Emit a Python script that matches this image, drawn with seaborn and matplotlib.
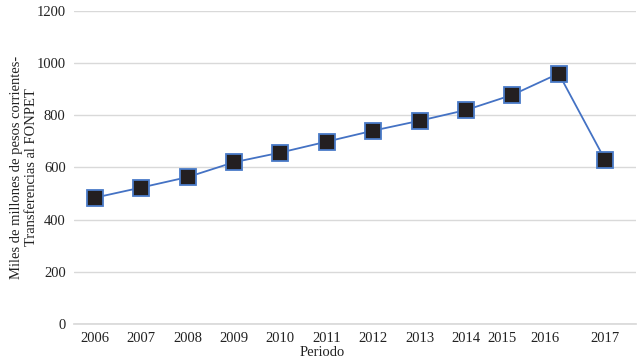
import matplotlib
matplotlib.use("Agg")
import matplotlib.pyplot as plt
import matplotlib.transforms as mtransforms
import seaborn as sns
import pandas as pd

years = ["2006", "2007", "2008", "2009", "2010", "2011", "2012", "2013", "2014", "2015", "2016", "2017"]
values = [484, 523, 563, 620, 657, 699, 741, 779, 820, 878, 960, 629]

sns.set_theme(style="white")
plt.rcParams['font.family'] = ['Liberation Serif', 'DejaVu Serif']

df = pd.DataFrame({"idx": range(len(years)), "value": values})

fig = plt.figure(figsize=(6.4, 3.64), dpi=100)
ax = fig.add_axes([0.1156, 0.110, 0.8784, 0.860])

sns.lineplot(data=df, x="idx", y="value", ax=ax, color="#4472c4", linewidth=1.3,
             marker="s", markersize=11, markerfacecolor="#231f20",
             markeredgecolor="#4a7bc8", markeredgewidth=1.3, zorder=3)

ax.set_ylim(0, 1200)
ax.set_yticks(range(0, 1201, 200))
ax.set_xlim(-0.45, 11.67)
ax.set_xticks(range(len(years)))
ax.set_xticklabels(years)
ax.yaxis.grid(True, color="#d9d9d9", linewidth=1)
ax.set_axisbelow(True)
for s in ["top", "right", "left"]:
    ax.spines[s].set_visible(False)
ax.spines["bottom"].set_color("#d9d9d9")
ax.tick_params(axis="both", length=0, labelsize=10.5, colors="#222222", pad=6)

# slight label shifts as in the reference
shifts = {"2015": -10, "2016": -14}
for lab in ax.get_xticklabels():
    dx = shifts.get(lab.get_text(), 0)
    if dx:
        lab.set_transform(lab.get_transform() + mtransforms.ScaledTranslation(dx / 100, 0, fig.dpi_scale_trans))

ax.set_xlabel("Periodo", fontsize=10.5, color="#222222")
ax.xaxis.set_label_coords(0.441, -0.07)
ax.set_ylabel("Miles de millones de pesos corrientes-\nTransferencias al FONPET",
              fontsize=10.5, color="#222222", linespacing=1.25)
ax.yaxis.set_label_coords(-0.064, 0.5)

fig.savefig("out.png", dpi=100)
